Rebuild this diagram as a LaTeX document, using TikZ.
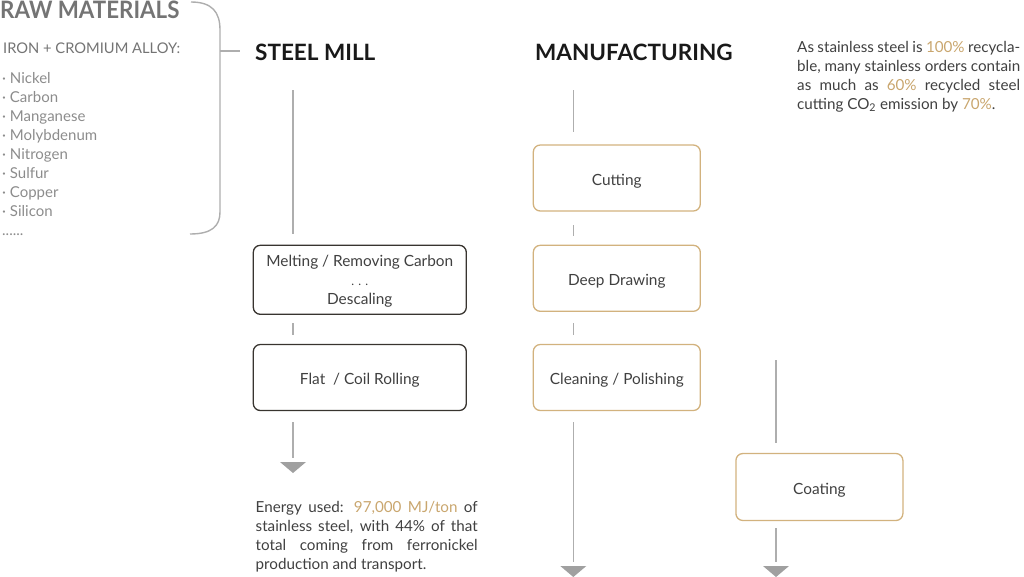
\documentclass[tikz,border=0pt]{standalone}
\usepackage{fontspec}
\setmainfont{Lato}
\definecolor{gold}{HTML}{D2B27E}
\definecolor{goldtxt}{HTML}{C9A66E}
\definecolor{linegray}{HTML}{AEAEAE}
\definecolor{tipgray}{HTML}{A0A0A0}
\definecolor{boxdark}{HTML}{38342F}
\definecolor{txt}{HTML}{404040}
\definecolor{rawgray}{HTML}{747474}
\definecolor{itemgray}{HTML}{8C8C8C}
\newcommand{\lowr}[1]{\raisebox{-3pt}[\height][\depth]{#1}}
\newcommand{\lowm}[1]{\raisebox{-1pt}[\height][\depth]{#1}}
\begin{document}
\begin{tikzpicture}[x=1pt,y=-1pt,
  conn/.style={draw=linegray, line width=1.4pt},
  tipfill/.style={fill=tipgray},
  darkbox/.style={draw=boxdark, line width=1.3pt, rounded corners=7pt, text=txt,
    font=\fontsize{15.4}{19}\selectfont, align=center, inner sep=0pt},
  goldbox/.style={draw=gold, line width=1.3pt, rounded corners=7pt, text=txt,
    font=\fontsize{15.4}{19}\selectfont, align=center, inner sep=0pt},
  header/.style={anchor=base west, inner sep=0pt, font=\fontsize{22.5}{26}\selectfont\bfseries, text=black!90},
  item/.style={anchor=base west, inner sep=0pt, font=\fontsize{15}{19}\selectfont, text=itemgray},
  para/.style={anchor=base west, inner sep=0pt, font=\fontsize{15.2}{19}\selectfont, text=txt}
]
\useasboundingbox (0,0) rectangle (1024,576);

% ---------- raw materials ----------
\node[anchor=base west, inner sep=0pt, font=\fontsize{24}{28}\selectfont\bfseries, text=rawgray] (raw) at (0,18) {\scalebox{0.93}[1]{RAW MATERIALS}};
\node[anchor=base west, inner sep=0pt, font=\fontsize{14.7}{19}\selectfont, text=rawgray] (alloy) at (3,53) {IRON + CROMIUM ALLOY:};
\foreach \t [count=\i] in {Nickel,Carbon,Manganese,Molybdenum,Nitrogen,Sulfur,Copper,Silicon}{
  \node[item] (item\i) at (2,{83+19*(\i-1)}) {· \t};
}
\node[item] (itemdots) at (2,235) {......};

% brace
\coordinate (brA) at (191,2);
\coordinate (brB) at (220,30);
\coordinate (brC) at (220,212);
\coordinate (brD) at (190,234);
\coordinate (brT1) at (220,51);
\coordinate (brT2) at (240,51);
\draw[conn] (brA) .. controls (212,2) and (220,12) .. (brB) -- (brC) .. controls (220,226) and (212,234) .. (brD);
\draw[conn] (brT1) -- (brT2);

% ---------- headers ----------
\node[header] (steel) at (255,60) {STEEL MILL};
\node[header] (manu) at (535,60) {MANUFACTURING};

% ---------- steel mill column ----------
\node[darkbox, minimum width=213pt, minimum height=69pt] (melt) at (359.8,279.8)
  {\lowm{Melting / Removing Carbon}\\\lowm{\fontsize{12}{19}\selectfont. . .}\\\lowm{Descaling}};
\node[darkbox, minimum width=213pt, minimum height=66pt] (flat) at (359.8,377.5) {\lowr{Flat \ / Coil Rolling}};

\coordinate (s1a) at (293,90);  \coordinate (s1b) at (293,234);
\coordinate (s2a) at (293,323); \coordinate (s2b) at (293,335);
\coordinate (s3a) at (293,422); \coordinate (s3b) at (293,458);
\coordinate (stip) at (293,462);
\draw[conn] (s1a) -- (s1b);
\draw[conn] (s2a) -- (s2b);
\draw[conn] (s3a) -- (s3b);
\fill[tipfill] (stip) ++(-13,0) -- ++(26,0) -- ++(-13,11) -- cycle;

\node[para] (energy1) at (255.5,512) {\makebox[222pt][s]{Energy used: \textcolor{goldtxt}{97,000 MJ/ton} of}};
\node[para] (energy2) at (255.5,531) {\makebox[222pt][s]{stainless steel, with 44\% of that}};
\node[para] (energy3) at (255.5,550) {\makebox[222pt][s]{total coming from ferronickel}};
\node[para] (energy4) at (255.5,569) {production and transport.};

% ---------- manufacturing column ----------
\node[goldbox, minimum width=167pt, minimum height=66pt] (cut) at (616.8,178) {\lowr{Cutting}};
\node[goldbox, minimum width=167pt, minimum height=66pt] (deep) at (616.8,278.3) {\lowr{Deep Drawing}};
\node[goldbox, minimum width=167pt, minimum height=66pt] (clean) at (616.8,377.5) {\lowr{Cleaning / Polishing}};

\coordinate (m1a) at (573.3,90);  \coordinate (m1b) at (573.3,132);
\coordinate (m2a) at (573.3,225); \coordinate (m2b) at (573.3,236);
\coordinate (m3a) at (573.3,323); \coordinate (m3b) at (573.3,335);
\coordinate (m4a) at (573.3,422); \coordinate (m4b) at (573.3,562);
\coordinate (mtip) at (573.3,566);
\draw[conn] (m1a) -- (m1b);
\draw[conn] (m2a) -- (m2b);
\draw[conn] (m3a) -- (m3b);
\draw[conn] (m4a) -- (m4b);
\fill[tipfill] (mtip) ++(-13,0) -- ++(26,0) -- ++(-13,11) -- cycle;

% ---------- coating ----------
\node[goldbox, minimum width=167pt, minimum height=67pt] (coat) at (819.4,487) {\lowr{Coating}};
\coordinate (c1a) at (776,360); \coordinate (c1b) at (776,443);
\coordinate (c2a) at (776,528); \coordinate (c2b) at (776,562);
\coordinate (ctip) at (776,566);
\draw[conn] (c1a) -- (c1b);
\draw[conn] (c2a) -- (c2b);
\fill[tipfill] (ctip) ++(-13,0) -- ++(26,0) -- ++(-13,11) -- cycle;

% ---------- recycling note ----------
\node[para] (rec1) at (797,52) {\makebox[223pt][s]{As stainless steel is \textcolor{goldtxt}{100\%} recycla-}};
\node[para] (rec2) at (797,71) {\makebox[223pt][s]{ble, many stainless orders contain}};
\node[para] (rec3) at (797,90) {\makebox[223pt][s]{as much as \textcolor{goldtxt}{60\%} recycled steel}};
\node[para] (rec4) at (797,109) {cutting CO\textsubscript{2} emission by \textcolor{goldtxt}{70\%}.};
\end{tikzpicture}
\end{document}
